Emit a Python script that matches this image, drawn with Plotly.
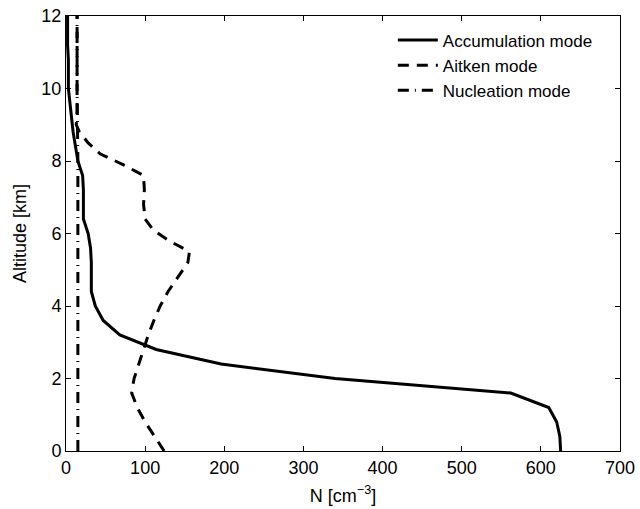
import plotly.graph_objects as go

# Accumulation mode (solid)
acc_alt = [0.0, 0.4, 0.8, 1.2, 1.6, 2.0, 2.4, 2.8, 3.2, 3.6, 4.0, 4.4, 4.8, 5.2, 5.6, 6.0, 6.4, 6.8, 7.2, 7.6, 8.0, 8.4, 8.8, 9.2, 9.6, 10.0, 10.4, 10.8, 11.2, 11.6, 12.0]
acc_n   = [625, 624, 620, 610, 562, 340, 196, 114, 68, 47, 37, 32, 32, 32, 31, 28, 22, 22, 22, 21, 15, 12, 9, 7, 5, 3, 3, 3, 2, 2, 2]

# Aitken mode (dashed)
ait_alt = [0.0, 0.4, 0.8, 1.2, 1.6, 2.0, 2.4, 2.8, 3.2, 3.6, 4.0, 4.4, 4.8, 5.2, 5.5, 5.8, 6.1, 6.4, 6.8, 7.2, 7.6, 7.9, 8.2, 8.5, 8.8, 9.0, 9.4, 10.0, 11.0, 12.0]
ait_n   = [124, 112, 100, 90, 83, 86, 92, 98, 104, 111, 119, 129, 141, 154, 156, 130, 110, 100, 98, 99, 98, 72, 43, 28, 17, 13, 14, 14, 14, 14]

# Nucleation mode (dash-dot)
nuc_alt = [0.0, 2.0, 4.0, 6.0, 8.0, 10.0, 12.0]
nuc_n   = [15, 15, 15, 15, 15, 14, 14]

x_ticks = [0, 100, 200, 300, 400, 500, 600, 700]
y_ticks = [0, 2, 4, 6, 8, 10, 12]

fig = go.Figure()
fig.add_trace(go.Scatter(x=acc_n, y=acc_alt, mode="lines", name="Accumulation mode",
                         line=dict(color="black", width=3, dash="solid")))
fig.add_trace(go.Scatter(x=ait_n, y=ait_alt, mode="lines", name="Aitken mode",
                         line=dict(color="black", width=3, dash="11px,8px")))
fig.add_trace(go.Scatter(x=nuc_n, y=nuc_alt, mode="lines", name="Nucleation mode",
                         line=dict(color="black", width=3, dash="11px,6px,1px,6px")))

axis_common = dict(showgrid=False, zeroline=False, showline=True, linecolor="black",
                   linewidth=1, mirror="ticks", ticks="inside", ticklen=5,
                   tickcolor="black", tickfont=dict(size=18, color="black"),
                   automargin=False)

fig.update_layout(
    width=640, height=509,
    margin=dict(l=66, r=20, t=16, b=58, autoexpand=False),
    paper_bgcolor="white", plot_bgcolor="white",
    font=dict(family="Liberation Sans, Arial, sans-serif", color="black", size=18),
    xaxis=dict(range=[0, 700], tickvals=x_ticks,
               title=dict(text="N [cm<sup>−3</sup>]", font=dict(size=18), standoff=12),
               **axis_common),
    yaxis=dict(range=[0, 12], tickvals=y_ticks,
               title=dict(text="Altitude [km]", font=dict(size=18), standoff=10),
               **axis_common),
    legend=dict(x=0.96, y=0.985, xanchor="right", yanchor="top",
                bgcolor="rgba(0,0,0,0)", borderwidth=0,
                font=dict(size=17), tracegroupgap=0, itemwidth=40),
    showlegend=True,
)

fig.write_html("out.html")
